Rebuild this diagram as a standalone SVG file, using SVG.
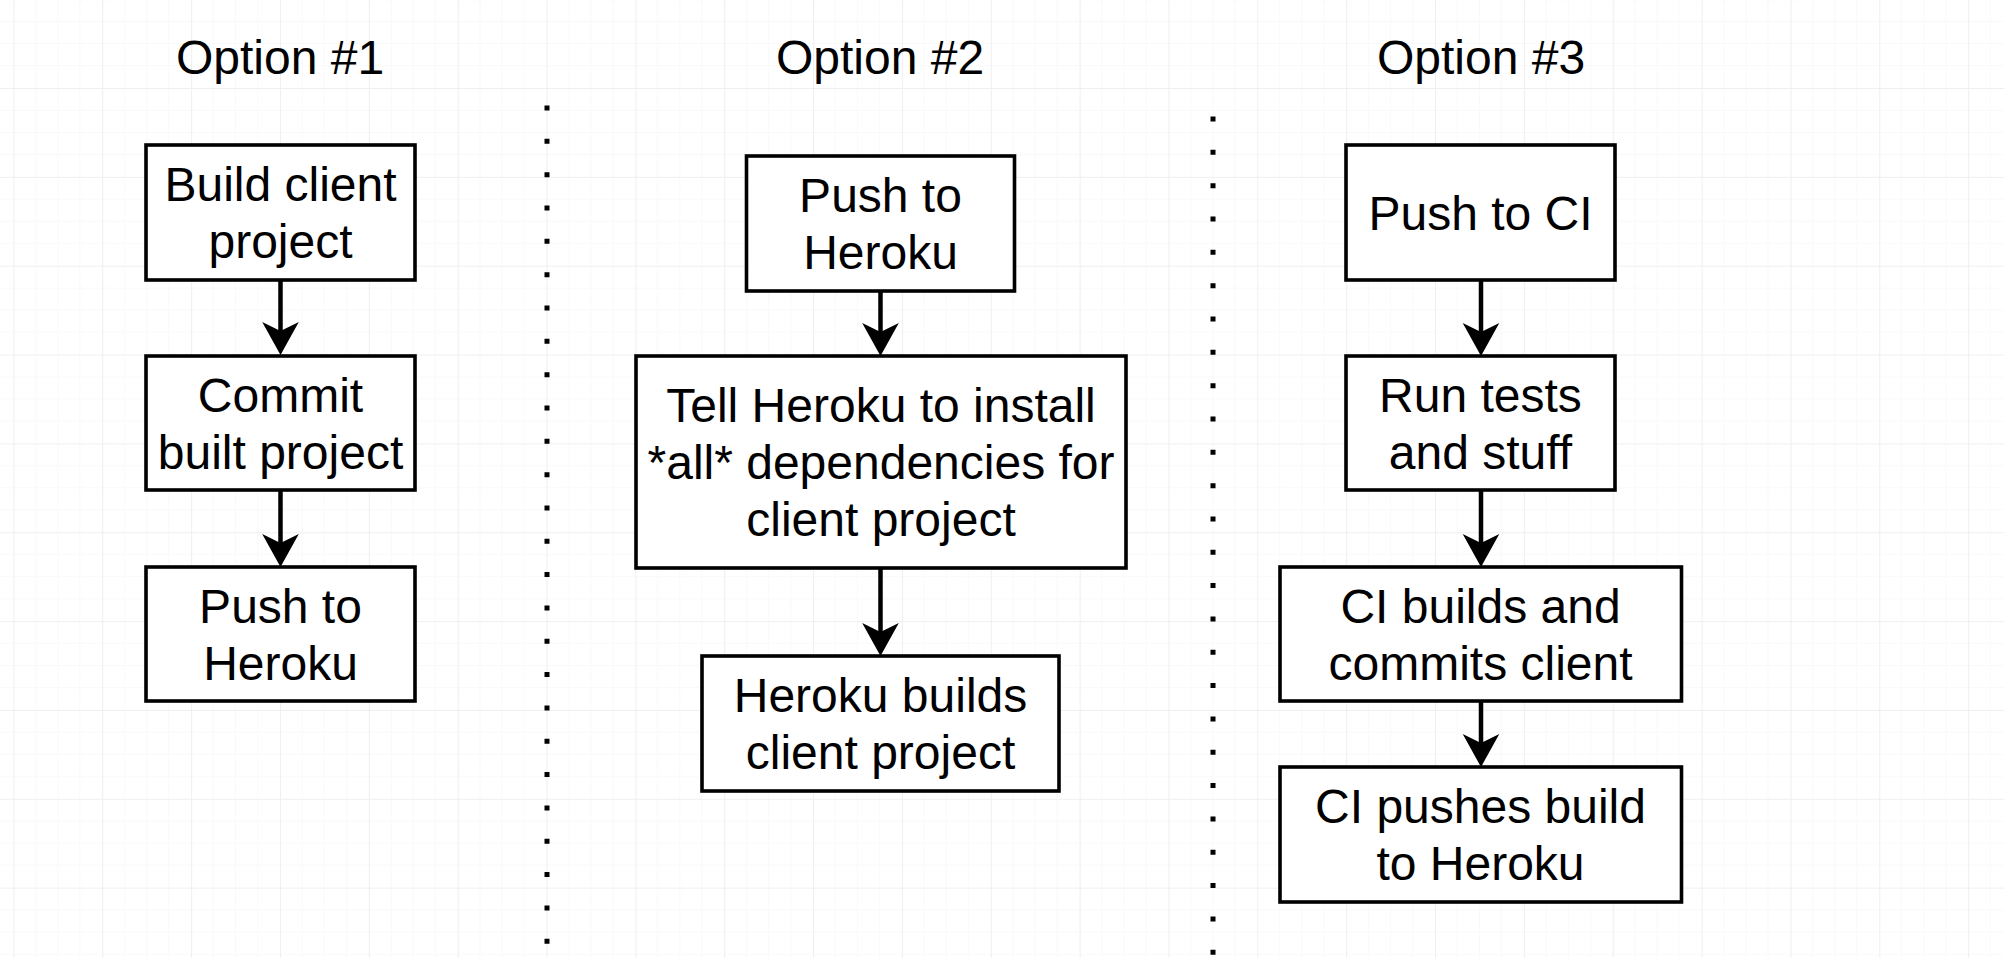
<svg xmlns="http://www.w3.org/2000/svg" width="2004" height="958" viewBox="0 0 2004 958">
  <style>
    .box { fill: #ffffff; stroke: #000000; stroke-width: 3.6; }
    .t { font-family: "Liberation Sans", Arial, Helvetica, sans-serif; font-size: 48px; fill: #000000; text-anchor: middle; }
    .conn { fill: none; stroke: #000000; stroke-width: 4.5; marker-end: url(#arrow); }
    .sep { fill: none; stroke: #000000; stroke-width: 5; stroke-dasharray: 5 28.33; }
  </style>
  <defs>
    <pattern id="grid" patternUnits="userSpaceOnUse" x="13.4" y="-0.85" width="88.85" height="88.85">
      <path d="M22.21,0 V88.85 M44.42,0 V88.85 M66.64,0 V88.85 M0,22.21 H88.85 M0,44.42 H88.85 M0,66.64 H88.85" stroke="#f9f9f9" stroke-width="1" fill="none"/>
      <path d="M0.5,0 V88.85 M0,0.5 H88.85" stroke="#efefef" stroke-width="1.2" fill="none"/>
    </pattern>
    <marker id="arrow" markerUnits="userSpaceOnUse" viewBox="-40 -20 40 40" markerWidth="40" markerHeight="40" refX="-20" refY="0" orient="auto">
      <path d="M0,0 L-33,-18.3 L-24,0 L-33,18.3 Z" fill="#000000"/>
    </marker>
  </defs>

  <rect x="0" y="0" width="2004" height="958" fill="#ffffff"/>
  <rect x="0" y="0" width="2004" height="958" fill="url(#grid)"/>

  <g id="separators">
    <line class="sep" x1="547" y1="105.5" x2="547" y2="958"/>
    <line class="sep" x1="1213" y1="116.5" x2="1213" y2="958"/>
  </g>

  <g id="titles">
    <text id="title-1" class="t" x="280" y="74">Option #1</text>
    <text id="title-2" class="t" x="880" y="74">Option #2</text>
    <text id="title-3" class="t" x="1481" y="74">Option #3</text>
  </g>

  <g id="connectors">
    <path class="conn" d="M280.5,280 V335"/>
    <path class="conn" d="M280.5,490 V547"/>
    <path class="conn" d="M880.5,291 V336"/>
    <path class="conn" d="M880.5,568 V636"/>
    <path class="conn" d="M1481,280 V336"/>
    <path class="conn" d="M1481,490 V547"/>
    <path class="conn" d="M1481,701 V747"/>
  </g>

  <g id="build-client">
    <rect class="box" x="146" y="145" width="269" height="135"/>
    <text class="t" x="280.5" y="201">Build client</text>
    <text class="t" x="280.5" y="258">project</text>
  </g>
  <g id="commit-built">
    <rect class="box" x="146" y="356" width="269" height="134"/>
    <text class="t" x="280.5" y="411.5">Commit</text>
    <text class="t" x="280.5" y="468.5">built project</text>
  </g>
  <g id="push-heroku-1">
    <rect class="box" x="146" y="567" width="269" height="134"/>
    <text class="t" x="280.5" y="622.5">Push to</text>
    <text class="t" x="280.5" y="679.5">Heroku</text>
  </g>

  <g id="push-heroku-2">
    <rect class="box" x="746.5" y="156" width="268" height="135"/>
    <text class="t" x="880.5" y="212">Push to</text>
    <text class="t" x="880.5" y="269">Heroku</text>
  </g>
  <g id="tell-heroku">
    <rect class="box" x="636" y="356" width="490" height="212"/>
    <text class="t" x="881" y="422">Tell Heroku to install</text>
    <text class="t" x="881" y="479">*all* dependencies for</text>
    <text class="t" x="881" y="536">client project</text>
  </g>
  <g id="heroku-builds">
    <rect class="box" x="702" y="656" width="357" height="135"/>
    <text class="t" x="880.5" y="712">Heroku builds</text>
    <text class="t" x="880.5" y="769">client project</text>
  </g>

  <g id="push-ci">
    <rect class="box" x="1346" y="145" width="269" height="135"/>
    <text class="t" x="1480.5" y="229.5">Push to CI</text>
  </g>
  <g id="run-tests">
    <rect class="box" x="1346" y="356" width="269" height="134"/>
    <text class="t" x="1480.5" y="411.5">Run tests</text>
    <text class="t" x="1480.5" y="468.5">and stuff</text>
  </g>
  <g id="ci-builds">
    <rect class="box" x="1280" y="567" width="401.5" height="134"/>
    <text class="t" x="1480.5" y="622.5">CI builds and</text>
    <text class="t" x="1480.5" y="679.5">commits client</text>
  </g>
  <g id="ci-pushes">
    <rect class="box" x="1280" y="767" width="401.5" height="135"/>
    <text class="t" x="1480.5" y="823">CI pushes build</text>
    <text class="t" x="1480.5" y="880">to Heroku</text>
  </g>
</svg>
